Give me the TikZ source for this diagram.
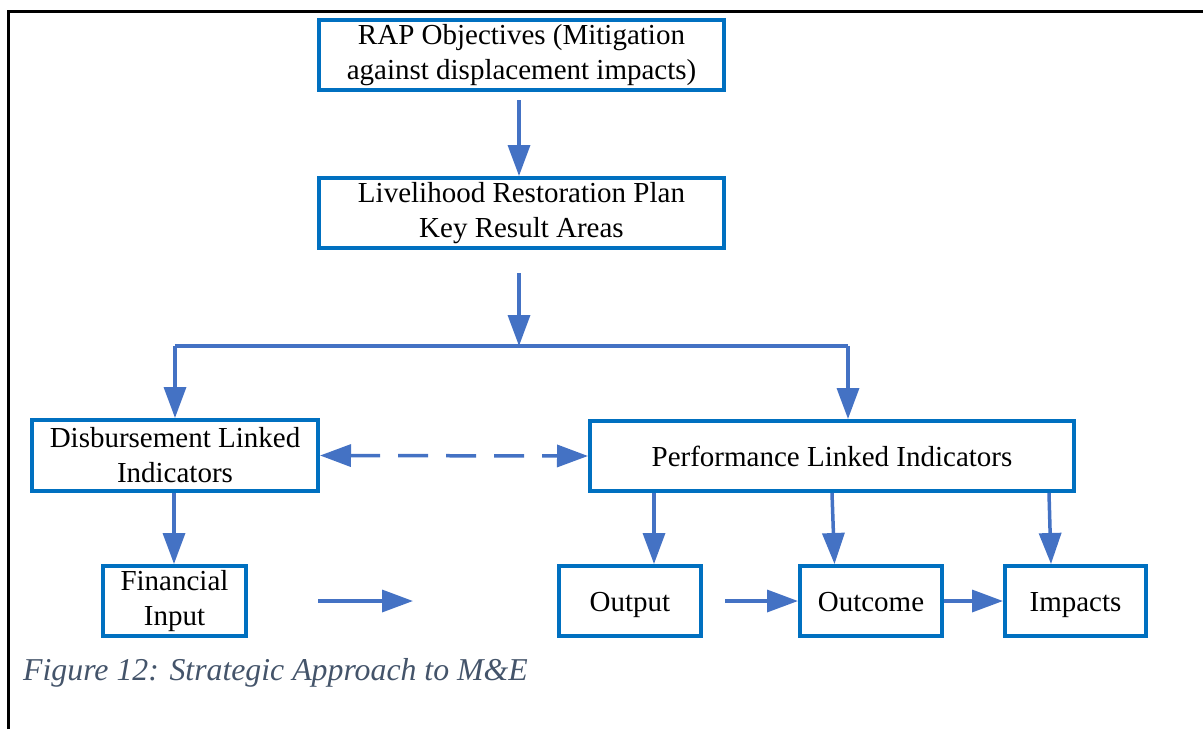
\documentclass[tikz,border=0pt]{standalone}
\usepackage{fontspec}
\setmainfont{Liberation Serif}
\usetikzlibrary{arrows.meta}
\definecolor{boxblue}{HTML}{0070C0}
\definecolor{arrblue}{HTML}{4472C4}
\definecolor{capgray}{HTML}{44546A}
\tikzset{
  stepbox/.style={draw=boxblue, line width=4pt, inner sep=0pt, align=center,
    font=\fontsize{29}{35}\selectfont, text=black},
  onebox/.style={draw=boxblue, line width=4pt, inner sep=0pt,
    font=\fontsize{29}{35}\selectfont, text=black, text height=20pt, text depth=0pt},
  arr/.style={draw=arrblue, line width=3.5pt, -{Triangle[length=31pt,width=22pt]}},
  plainline/.style={draw=arrblue, line width=3.5pt},
}
\begin{document}
\begin{tikzpicture}[x=1pt,y=-1pt]
\useasboundingbox (0,0) rectangle (1203,729);
% frame
\draw[line width=3pt] (8,729) -- (8,11) -- (1203,11);
% boxes
\node[stepbox, minimum width=405pt, minimum height=70pt] (rap) at (521.5,55)
  {RAP Objectives (Mitigation\\against displacement impacts)};
\node[stepbox, minimum width=405pt, minimum height=70pt] (lrp) at (521.5,213)
  {Livelihood Restoration Plan\\Key Result Areas};
\node[stepbox, minimum width=286pt, minimum height=71pt] (disb) at (175,455.5)
  {Disbursement Linked\\Indicators};
\node[onebox, minimum width=484pt, minimum height=70pt] (perf) at (832,456)
  {Performance Linked Indicators};
\node[stepbox, minimum width=143pt, minimum height=70pt] (fin) at (174.5,601)
  {Financial\\Input};
\node[onebox, minimum width=142pt, minimum height=70pt] (out) at (630,601)
  {Output};
\node[onebox, minimum width=142pt, minimum height=70pt] (outc) at (871,601)
  {Outcome};
\node[onebox, minimum width=141pt, minimum height=70pt] (imp) at (1075.5,601)
  {Impacts};
% caption
\node[anchor=base west, inner sep=0pt, text=capgray,
  font=\fontsize{31.8}{36}\selectfont\itshape] (cap) at (23,680)
  {Figure 12: Strategic Approach to M\&E};
% coordinates
\coordinate (a1s) at (519,100);
\coordinate (a2s) at (519,273);
\coordinate (j) at (519,346);
\coordinate (jl) at (175,346);
\coordinate (jr) at (848,346);
\coordinate (fs) at (318,601);
\coordinate (fe) at (413,601);
\coordinate (os) at (725,601);
% connectors
\draw[arr] (a1s) -- (a1s |- lrp.north);
\draw[arr] (a2s) -- (j);
\draw[plainline] (jl) -- (jr);
\draw[arr] (jl) -- (jl |- disb.north);
\draw[arr] (jr) -- (jr |- perf.north);
\draw[draw=arrblue, line width=3.5pt, dash pattern=on 30pt off 18pt,
  {Triangle[length=31pt,width=22pt]}-{Triangle[length=31pt,width=22pt]}]
  (disb.east) -- (perf.west);
\draw[arr] (disb.south -| 174,0) -- (fin.north -| 174,0);
\draw[arr] (fs) -- (fe);
\draw[arr] (perf.south -| 654,0) -- (out.north -| 654,0);
\draw[arr] (perf.south -| 832,0) -- (out.north -| 834.5,0);
\draw[arr] (perf.south -| 1049,0) -- (imp.north -| 1051,0);
\draw[arr] (os) -- (outc.west);
\draw[arr] (outc.east) -- (imp.west);
\end{tikzpicture}
\end{document}
